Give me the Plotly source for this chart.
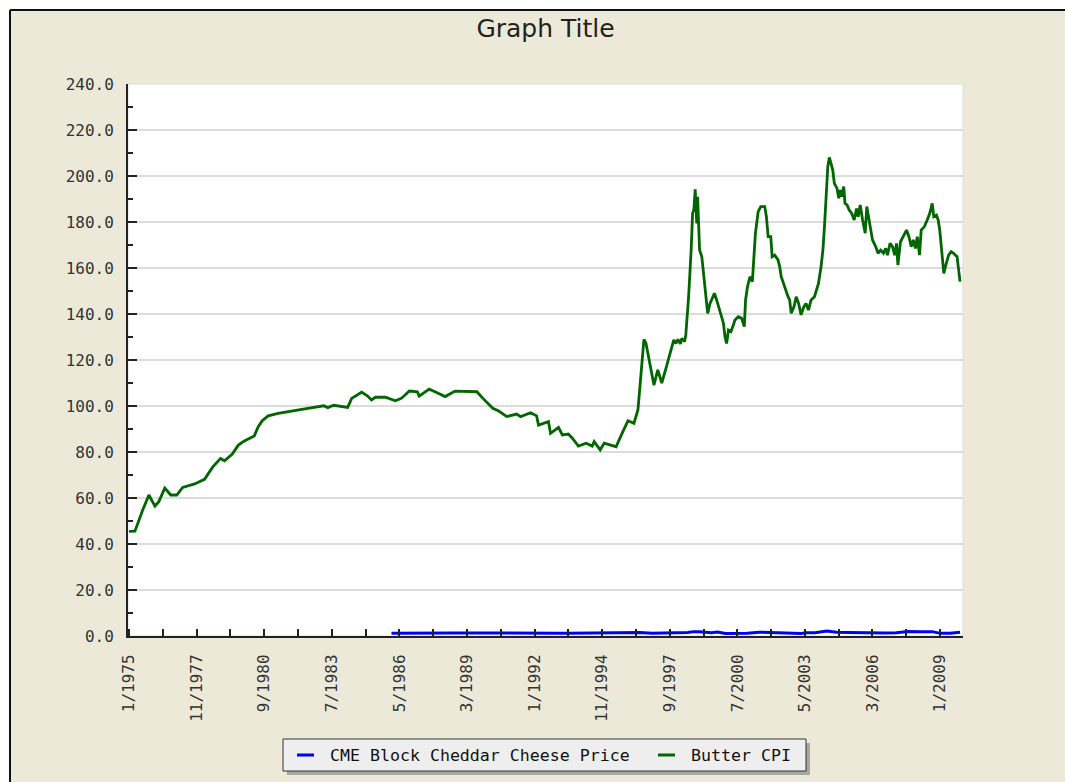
import plotly.graph_objects as go

# ---------------- data ----------------
title_text = "Graph Title"
series_names = ["CME Block Cheddar Cheese Price", "Butter CPI"]
series_colors = ["#0000FF", "#006600"]

butter_dates = [
    "1975-01-01", "1975-04-01", "1975-08-01", "1975-11-01", "1976-02-01", "1976-04-01", "1976-07-01",
    "1976-10-01", "1977-01-01", "1977-04-01", "1977-10-01", "1978-03-01", "1978-07-01", "1978-11-01",
    "1979-01-01", "1979-05-01", "1979-08-01", "1979-11-01", "1980-04-01", "1980-06-01", "1980-08-01",
    "1980-11-01", "1981-04-01", "1981-10-01", "1982-07-01", "1983-03-01", "1983-05-01", "1983-08-01",
    "1983-12-01", "1984-03-01", "1984-05-01", "1984-10-01", "1985-01-01", "1985-03-01", "1985-05-01",
    "1985-10-01", "1986-03-01", "1986-06-01", "1986-10-01", "1987-02-01", "1987-03-01", "1987-08-01",
    "1987-12-01", "1988-04-01", "1988-09-01", "1989-01-01", "1989-08-01", "1989-11-01", "1990-04-01",
    "1990-07-01", "1990-11-01", "1991-04-01", "1991-06-01", "1991-11-01", "1992-02-01", "1992-03-01",
    "1992-08-01", "1992-09-01", "1993-01-01", "1993-03-01", "1993-06-01", "1993-08-01", "1993-11-01",
    "1994-03-01", "1994-06-01", "1994-07-01", "1994-10-01", "1994-12-01", "1995-04-01", "1995-06-01",
    "1995-09-01", "1995-12-01", "1996-03-01", "1996-05-01", "1996-06-01", "1996-08-01", "1996-09-01",
    "1996-12-01", "1997-01-01", "1997-03-01", "1997-05-01", "1997-07-01",
    "1997-10-04", "1997-11-01", "1997-12-04", "1998-01-04", "1998-02-10", "1998-03-04", "1998-04-16",
    "1998-05-04", "1998-06-16", "1998-07-10", "1998-07-25", "1998-08-16", "1998-09-04", "1998-09-25",
    "1998-10-10", "1998-10-19", "1998-11-01", "1998-11-16", "1998-12-01", "1999-01-04", "1999-02-01",
    "1999-02-25", "1999-04-04", "1999-05-10", "1999-06-16", "1999-07-16", "1999-08-19", "1999-09-16",
    "1999-10-25", "1999-12-01", "1999-12-25", "2000-01-19", "2000-02-16", "2000-03-25", "2000-05-01",
    "2000-05-25", "2000-07-16", "2000-09-04", "2000-10-16", "2000-11-04", "2000-12-04", "2001-01-10",
    "2001-02-16", "2001-03-16", "2001-04-04", "2001-05-16", "2001-06-25", "2001-08-25", "2001-09-19",
    "2001-10-16", "2001-11-25", "2001-12-16", "2002-01-25", "2002-03-16", "2002-04-10", "2002-05-04",
    "2002-06-25", "2002-07-19", "2002-08-16", "2002-09-10", "2002-10-04", "2002-11-16", "2002-12-19",
    "2003-01-25", "2003-03-04", "2003-04-16", "2003-05-19", "2003-06-25", "2003-08-04", "2003-09-25",
    "2003-10-19", "2003-11-25", "2004-01-04", "2004-02-01", "2004-02-25", "2004-03-19", "2004-04-16",
    "2004-05-10", "2004-06-04", "2004-07-01", "2004-07-25", "2004-09-04", "2004-10-01", "2004-10-25",
    "2004-11-16", "2004-12-16", "2005-01-04", "2005-02-04", "2005-03-10", "2005-04-16", "2005-05-25",
    "2005-07-01", "2005-07-25", "2005-08-25", "2005-10-01", "2005-10-25", "2005-11-10", "2005-12-04",
    "2005-12-25", "2006-01-25", "2006-03-01", "2006-04-19", "2006-05-25", "2006-07-04", "2006-08-16",
    "2006-09-19", "2006-10-16", "2006-11-25", "2007-01-01", "2007-02-04", "2007-03-04", "2007-03-25",
    "2007-05-04", "2007-06-25", "2007-08-04", "2007-09-10", "2007-10-16", "2007-11-16", "2007-12-19",
    "2008-01-16", "2008-02-19", "2008-03-16", "2008-05-04", "2008-06-16", "2008-07-25", "2008-09-01",
    "2008-09-25", "2008-11-04", "2008-12-01", "2008-12-25", "2009-01-19", "2009-02-25", "2009-04-04",
    "2009-05-10", "2009-06-16", "2009-07-25", "2009-09-16", "2009-10-10", "2009-11-01",
]
butter_values = [
    45.5, 45.6, 55.0, 61.3, 56.5, 58.4, 64.3,
    61.3, 61.3, 64.6, 66.1, 68.1, 73.3, 77.2,
    76.2, 79.1, 83.0, 84.8, 87.0, 91.0, 93.6,
    95.7, 96.8, 97.8, 99.0, 100.1, 99.3, 100.3,
    99.7, 99.4, 103.3, 106.0, 104.3, 102.6, 103.8,
    103.8, 102.3, 103.3, 106.5, 106.2, 104.3, 107.3,
    105.8, 104.1, 106.5, 106.5, 106.2, 103.3, 99.0,
    97.8, 95.4, 96.5, 95.4, 97.1, 95.7, 91.7,
    93.2, 88.1, 90.7, 87.4, 87.8, 86.0, 82.6,
    83.8, 82.6, 84.5, 80.9, 83.8, 83.0, 82.3,
    88.1, 93.6, 92.5, 98.3, 108.4, 129.0, 127.3,
    113.5, 109.1, 115.7, 110.0, 116.0,
    125.1, 128.7, 127.2, 129.0, 127.0, 129.4, 128.0,
    130.9, 147.5, 157.7, 167.8, 183.8, 185.2, 194.2,
    183.8, 179.4, 191.0, 179.4, 167.8, 164.9, 157.7,
    150.4, 140.3, 144.6, 147.5, 149.0, 146.1, 143.2,
    138.8, 136.0, 130.1, 127.2, 133.0, 132.3, 135.2,
    137.4, 138.8, 138.1, 134.5, 146.1, 151.9, 156.2,
    154.1, 166.4, 175.1, 184.5, 186.7, 186.7, 182.3,
    173.6, 173.6, 164.9, 165.6, 163.5, 160.6, 156.2,
    151.9, 149.0, 147.5, 146.1, 140.3, 143.2, 147.5,
    144.6, 139.6, 143.2, 144.6, 141.7, 146.1, 147.5,
    149.7, 153.3, 160.6, 167.8, 178.0, 192.5, 204.1,
    208.1, 204.8, 202.6, 196.8, 194.6, 190.3, 193.9,
    191.0, 195.4, 188.1, 187.4, 185.2, 183.8, 180.9,
    185.9, 182.3, 187.4, 180.9, 178.0, 175.1, 186.7,
    182.3, 178.0, 172.2, 169.3, 166.4, 167.8, 166.4,
    168.5, 165.6, 170.7, 169.3, 165.6, 170.7, 161.3,
    171.4, 174.3, 176.5, 173.6, 169.3, 172.2, 168.5,
    173.6, 165.6, 176.5, 178.0, 180.9, 183.8, 188.1,
    182.3, 183.0, 180.9, 176.5, 167.8, 157.7, 162.0,
    165.6, 167.1, 166.4, 164.9, 159.1, 154.1,
]

cheese_dates = [
    "1986-01", "1986-07", "1987-01", "1987-07", "1988-01", "1988-07", "1989-01", "1989-07",
    "1989-12", "1990-06", "1990-12", "1991-06", "1991-12", "1992-06", "1992-12", "1993-06",
    "1993-12", "1994-06", "1994-12", "1995-06", "1995-12", "1996-06", "1996-12", "1997-06",
    "1997-12", "1998-06", "1998-09", "1998-12", "1999-06", "1999-09", "2000-01", "2000-06",
    "2000-12", "2001-06", "2001-10", "2002-03", "2002-09", "2003-03", "2003-06", "2003-10",
    "2004-04", "2004-09", "2005-03", "2005-09", "2006-03", "2006-09", "2007-03", "2007-09",
    "2008-03", "2008-09", "2009-01", "2009-06", "2009-11",
]
cheese_values = [
    1.25, 1.20, 1.25, 1.20, 1.22, 1.30, 1.35, 1.30,
    1.55, 1.40, 1.15, 1.15, 1.30, 1.30, 1.25, 1.25,
    1.30, 1.30, 1.25, 1.20, 1.40, 1.55, 1.15, 1.20,
    1.35, 1.55, 1.90, 1.85, 1.40, 1.75, 1.10, 1.15,
    1.20, 1.65, 1.60, 1.25, 1.15, 1.10, 1.40, 1.45,
    2.15, 1.60, 1.55, 1.45, 1.20, 1.30, 1.45, 2.00,
    1.80, 1.90, 1.15, 1.15, 1.60,
]

y_tick_values = [0, 20, 40, 60, 80, 100, 120, 140, 160, 180, 200, 220, 240]
x_tick_dates = ["1975-01", "1977-11", "1980-09", "1983-07", "1986-05", "1989-03", "1992-01",
                "1994-11", "1997-09", "2000-07", "2003-05", "2006-03", "2009-01"]
x_tick_labels = ["1/1975", "11/1977", "9/1980", "7/1983", "5/1986", "3/1989", "1/1992",
                 "11/1994", "9/1997", "7/2000", "5/2003", "3/2006", "1/2009"]

# ---------------- layout geometry (screen pixels) ----------------
W, H = 1065, 782
PL, PR, PT, PB = 128, 963, 84, 636   # plot area on screen
BG = "#ECE9D8"
FONT = "DejaVu Sans Mono"


def px(x):
    return (x - PL) / (PR - PL)


def py(y):
    return (PB - y) / (PB - PT)


fig = go.Figure()
fig.add_trace(go.Scatter(x=cheese_dates, y=cheese_values, mode="lines", name=series_names[0],
                         line=dict(color=series_colors[0], width=3)))
fig.add_trace(go.Scatter(x=butter_dates, y=butter_values, mode="lines", name=series_names[1],
                         line=dict(color=series_colors[1], width=2.8)))

shapes = []
# white outer strips + black frame of the chart image
shapes.append(dict(type="rect", xref="paper", yref="paper", x0=px(-20), x1=px(W + 20), y0=py(-20), y1=py(10),
                   fillcolor="white", line=dict(width=0), layer="above"))
shapes.append(dict(type="rect", xref="paper", yref="paper", x0=px(-20), x1=px(10), y0=py(-20), y1=py(H + 20),
                   fillcolor="white", line=dict(width=0), layer="above"))
shapes.append(dict(type="line", xref="paper", yref="paper", x0=px(10), x1=px(W + 20), y0=py(10), y1=py(10),
                   line=dict(color="#111111", width=2), layer="above"))
shapes.append(dict(type="line", xref="paper", yref="paper", x0=px(10), x1=px(10), y0=py(10), y1=py(H + 20),
                   line=dict(color="#111111", width=2), layer="above"))
# plot area faint border
shapes.append(dict(type="rect", xref="paper", yref="paper", x0=0, x1=1, y0=0, y1=1,
                   line=dict(color="#DDDDDD", width=1), layer="below"))

# custom legend
LX0, LX1, LY0, LY1 = 283, 806, 739, 771
LYC = (LY0 + LY1) / 2
shapes.append(dict(type="rect", xref="paper", yref="paper", x0=px(LX0 + 4), x1=px(LX1 + 4), y0=py(LY0 + 4),
                   y1=py(LY1 + 4), fillcolor="#A8A8A0", line=dict(width=0), layer="above"))
shapes.append(dict(type="rect", xref="paper", yref="paper", x0=px(LX0), x1=px(LX1), y0=py(LY0), y1=py(LY1),
                   fillcolor="#EEEEEE", line=dict(color="#333333", width=1), layer="above"))
legend_items = [(297, 328), (658, 689)]
annotations = []
for (sx, tx), name, col in zip(legend_items, series_names, series_colors):
    shapes.append(dict(type="line", xref="paper", yref="paper", x0=px(sx), x1=px(sx + 17), y0=py(LYC), y1=py(LYC),
                       line=dict(color=col, width=3), layer="above"))
    annotations.append(dict(xref="paper", yref="paper", x=px(tx), y=py(LYC), text=name, showarrow=False,
                            xanchor="left", yanchor="middle", font=dict(family=FONT, size=16.6, color="#111111")))

fig.update_layout(
    width=W, height=H,
    margin=dict(l=PL, r=W - PR, t=PT, b=H - PB, pad=0),
    paper_bgcolor=BG, plot_bgcolor="white",
    showlegend=False,
    title=dict(text=title_text, x=0.5, xref="paper", y=1 - 28 / H, yref="container",
               xanchor="center", yanchor="middle",
               font=dict(family="DejaVu Sans", size=25, color="#222222")),
    shapes=shapes,
    annotations=annotations,
    xaxis=dict(
        type="date",
        range=["1974-12-16", "2009-12-16"],
        tickmode="array", tickvals=x_tick_dates, ticktext=x_tick_labels,
        tickangle=-90,
        ticks="inside", ticklen=7, tickwidth=1.5, tickcolor="#222222",
        minor=dict(tick0="1975-01-01", dtick="M17", ticks="inside", ticklen=7, tickwidth=1.5,
                   tickcolor="#222222", showgrid=False),
        showline=True, linecolor="#222222", linewidth=2,
        showgrid=False, zeroline=False,
        tickfont=dict(family=FONT, size=16, color="#333333"),
        ticklabelstandoff=10,
    ),
    yaxis=dict(
        range=[0, 240],
        tickmode="array", tickvals=y_tick_values, tickformat=".1f",
        ticks="inside", ticklen=9, tickwidth=1.5, tickcolor="#222222",
        minor=dict(dtick=10, ticks="inside", ticklen=5, tickwidth=1.5, tickcolor="#222222", showgrid=False),
        showline=True, linecolor="#222222", linewidth=2,
        showgrid=True, gridcolor="#DCDCDC", gridwidth=1.5,
        zeroline=False,
        tickfont=dict(family=FONT, size=16, color="#333333"),
        ticklabelstandoff=9,
    ),
)

fig.write_html(
    "out.html",
    config={"displayModeBar": False},
    post_script="document.body.style.margin='0';document.body.style.overflow='hidden';",
)
